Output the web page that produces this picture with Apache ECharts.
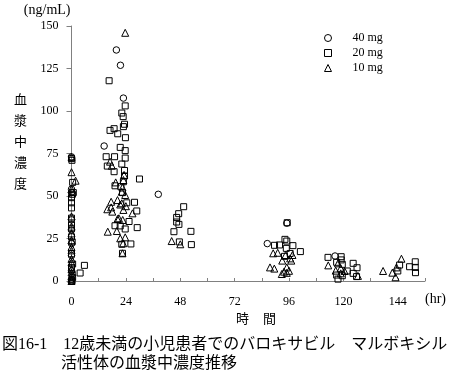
<!DOCTYPE html>
<html>
<head>
<meta charset="utf-8">
<style>
html, body { margin: 0; padding: 0; background: #fff; }
#main { width: 450px; height: 370px; }
</style>
<script src="https://cdn.jsdelivr.net/npm/echarts@6/dist/echarts.min.js"></script>
</head>
<body>
<div id="main"></div>
<script>
var seriesNames = ['40 mg', '20 mg', '10 mg'];
var yLabelTitle = '(ng/mL)';
var xLabelTitle = '(hr)';

// [hours, ng/mL]
var data40 = [
    [0, 73], [0, 54], [0, 52], [0, 36], [0, 30], [0, 22], [0, 15], [0, 6], [0, 1], [0, 0],
    [19.8, 135.9], [21.6, 126.9], [22.9, 107.6], [14.4, 79.4], [38.3, 51],
    [86.4, 22], [95, 34], [116.3, 14.7]
];
var data20 = [
    [0, 72], [0.2, 71], [0.5, 58], [0.8, 52], [0.4, 51], [0, 49], [0, 46], [0, 43], [0, 37], [0, 33],
    [0, 31], [0, 26], [0.3, 23], [0, 16], [0.5, 10], [0, 8], [0.3, 4], [0.5, 2], [0.2, 0],
    [5.7, 9.2], [3.8, 4.7],
    [16.6, 117.8], [23.7, 103], [22.2, 98.8], [22.8, 96.7], [23.4, 92.2], [22.9, 90.8],
    [17, 88.6], [18.8, 89.6], [20.4, 86.6], [23.8, 84.3], [21.5, 78.6], [23.7, 76.7],
    [15.3, 73.1], [19, 73.1], [23.7, 72.3], [15.8, 67.6], [22.2, 68.8], [18.8, 64.3],
    [23.4, 65], [23.4, 61.8], [30, 60], [19.2, 56], [21.8, 55.5], [22.9, 58.4], [22.5, 52],
    [27.8, 46.3], [24.4, 46], [28.8, 41.2], [25.4, 35], [19.2, 32.5], [21.5, 32.4],
    [23.7, 30.6], [29, 31.4], [26.2, 21.8], [22.2, 21.6], [22.5, 16.3],
    [49.5, 43.7], [47.3, 39.6], [46.4, 37.4], [46.4, 34.7], [47.4, 33.3], [45.2, 29],
    [52.7, 29.2], [47.6, 23], [52.9, 21.4],
    [95.2, 34.3], [94.2, 24.5], [95, 23.5], [89.6, 21], [91.8, 21.2], [97.7, 20.8], [94.8, 19.2],
    [101, 17.3], [96.5, 16.2], [94, 14.5],
    [113.2, 13.9], [119, 14.3], [119, 12.4], [117, 11], [119.5, 9.8], [121.7, 5.9], [117, 3.5],
    [119.5, 3.1], [117.6, 1.1], [124.3, 10.4], [126, 7.8], [124.3, 4.5], [125.8, 2.6],
    [144.8, 9.4], [144, 5.9], [151.7, 11.3], [149.2, 8.4], [151.7, 8], [151.8, 4.9]
];
var data10 = [
    [0, 73], [0, 64], [1.8, 59], [0, 54], [0, 38], [0, 32], [0, 28], [0, 24], [0, 20], [0, 18],
    [0, 13], [0, 11], [0, 7], [0, 5], [0, 3], [0, 1], [0, 0],
    [23.7, 146], [17, 70.2], [17.8, 67.8], [19.5, 58], [17.5, 46.6], [20.3, 47.6], [15.8, 42.2],
    [17.5, 43.3], [18, 40.8], [26.9, 39.8], [16, 29], [20.3, 36.5], [22.9, 41.8], [22.6, 35.9],
    [20, 29.4], [21.5, 25.1], [23.7, 25.7], [22.8, 22.2], [22.5, 16.3], [23.7, 50.6], [23.2, 62.4],
    [22.9, 59.4], [22.2, 52.5], [22.2, 45.7], [20.9, 36.9], [22.5, 55], [21.5, 45], [24, 44],
    [44.2, 23.5], [48, 21.6],
    [89, 16.3], [91, 16.6], [94.5, 15.3], [97.5, 15.3], [96.5, 13.3], [93, 12], [97, 12],
    [87.6, 8], [89.5, 7.3], [95, 8], [93.8, 5.5], [96, 6], [92.8, 4.1], [95, 4.8],
    [113.3, 9.2], [117.6, 10.4], [118.8, 7.5], [116.6, 6.1], [120.5, 5.9], [118.8, 4.5], [126.4, 3],
    [137.5, 5.9], [145.6, 13.1], [143.4, 8], [141.6, 4.9], [143, 2.2]
];

var serif = '"Liberation Serif", "Noto Sans CJK JP", serif';

function scatter(name, data, symbol, size) {
    return {
        name: name,
        type: 'scatter',
        data: data,
        symbol: symbol,
        symbolSize: size,
        clip: false,
        itemStyle: { color: 'transparent', borderColor: '#000', borderWidth: 1, opacity: 1 }
    };
}

var myChart = echarts.init(document.getElementById('main'));
var option = {
    animation: false,
    backgroundColor: '#fff',
    textStyle: { fontFamily: serif, color: '#000' },
    grid: { left: 71.5, right: 25, top: 26, bottom: 89 },
    legend: {
        orient: 'vertical',
        left: 319,
        top: 27,
        itemWidth: 7,
        itemHeight: 7,
        itemGap: 3,
        itemStyle: { borderWidth: 1 },
        data: seriesNames.map(function (n) { return { name: n }; }),
        textStyle: { fontFamily: serif, fontSize: 12, color: '#000', padding: [0, 0, 0, 16] }
    },
    title: [
        {
            text: '図16-1　12歳未満の小児患者でのバロキサビル　マルボキシル',
            left: -3,
            top: 332,
            textStyle: { fontFamily: serif, fontSize: 16, fontWeight: 'normal', color: '#000' }
        },
        {
            text: '活性体の血漿中濃度推移',
            left: 56,
            top: 351,
            textStyle: { fontFamily: serif, fontSize: 16, fontWeight: 'normal', color: '#000' }
        }
    ],
    xAxis: {
        type: 'value',
        min: 0,
        max: 156,
        interval: 12,
        name: xLabelTitle,
        nameLocation: 'end',
        nameGap: 0,
        nameTextStyle: { fontFamily: serif, fontSize: 14, color: '#000', verticalAlign: 'top', padding: [11, 0, 0, 0] },
        splitLine: { show: false },
        axisLine: { onZero: false, lineStyle: { color: '#808080' } },
        axisTick: { inside: true, length: 3, lineStyle: { color: '#808080' } },
        axisLabel: {
            fontFamily: serif,
            fontSize: 12,
            color: '#000',
            margin: 15,
            formatter: function (v) { return (v % 24 === 0 && v < 156) ? String(v) : ''; }
        }
    },
    yAxis: {
        type: 'value',
        min: 0,
        max: 150,
        interval: 25,
        name: yLabelTitle,
        nameLocation: 'end',
        nameGap: 9,
        nameTextStyle: { fontFamily: serif, fontSize: 14, color: '#000', align: 'right', padding: [0, 1, 0, 0] },
        splitLine: { show: false },
        axisLine: { show: true, lineStyle: { color: '#808080' } },
        axisTick: { show: true, length: 5, lineStyle: { color: '#808080' } },
        axisLabel: { fontFamily: serif, fontSize: 12, color: '#000', margin: 13 }
    },
    graphic: [
        { type: 'text', left: 14, top: 94, style: { text: '血', font: '13px ' + serif, fill: '#000' } },
        { type: 'text', left: 14, top: 115, style: { text: '漿', font: '13px ' + serif, fill: '#000' } },
        { type: 'text', left: 14, top: 136, style: { text: '中', font: '13px ' + serif, fill: '#000' } },
        { type: 'text', left: 14, top: 157, style: { text: '濃', font: '13px ' + serif, fill: '#000' } },
        { type: 'text', left: 14, top: 178, style: { text: '度', font: '13px ' + serif, fill: '#000' } },
        { type: 'text', left: 236, top: 313, style: { text: '時', font: '13px ' + serif, fill: '#000' } },
        { type: 'text', left: 263, top: 313, style: { text: '間', font: '13px ' + serif, fill: '#000' } }
    ],
    series: [
        scatter(seriesNames[0], data40, 'circle', 6.5),
        scatter(seriesNames[1], data20, 'rect', 6),
        scatter(seriesNames[2], data10, 'triangle', 7)
    ]
};
myChart.setOption(option);
</script>
</body>
</html>
